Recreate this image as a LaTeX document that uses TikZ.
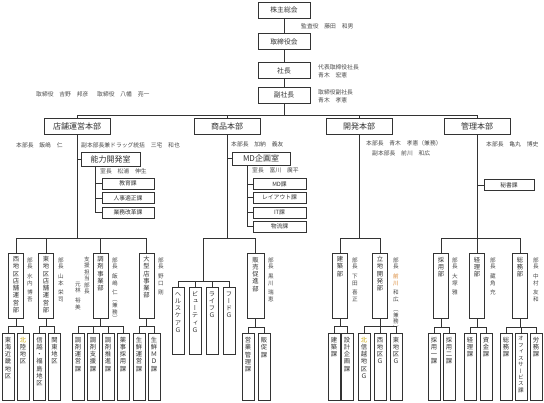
\documentclass[tikz,border=0pt]{standalone}
\usepackage{fontspec}
\setmainfont{Noto Sans CJK JP}
\newfontfamily\vfont[RawFeature=+vert]{Noto Sans CJK JP}
\usetikzlibrary{calc}
\definecolor{ln}{HTML}{333333}
\definecolor{tx}{HTML}{333333}
\definecolor{lb}{HTML}{4a4a4a}
\definecolor{hl}{HTML}{C9A400}
\definecolor{hlo}{HTML}{D9822B}
\ExplSyntaxOn
\NewDocumentCommand \VT { m }
  {
    \vbox:n
      {
        \offinterlineskip
        \tl_map_inline:nn { #1 }
          {
            \str_if_eq:nnTF { ##1 } { / }
              { \skip_vertical:n { 0.6em } }
              { \hbox_to_wd:nn { 1.1em } { \hss \tex_vrule:D height 0.92em depth 0.23em width 0pt \hbox:n { ##1 } \hss } }
          }
      }
  }
\ExplSyntaxOff
\newcommand\mkdept[4]{\node[deptbox] (#1) at (#2,#3) {};\node[vtx] (#1t) at ($(#1.north)+(0,3)$) {\VT{#4}};}
\newcommand\mksub[4]{\node[subbox] (#1) at (#2,#3) {};\node[vtx] (#1t) at ($(#1.north)+(0,3.5)$) {\VT{#4}};}
\begin{document}
\begin{tikzpicture}[x=1pt,y=-1pt,
  topbox/.style={draw=ln, line width=0.9pt, fill=white, minimum width=52pt, minimum height=16pt, inner sep=0pt, font=\fontsize{6.8}{8}\selectfont, text=tx},
  divbox/.style={topbox, minimum width=66pt, minimum height=16pt, font=\fontsize{8}{9}\selectfont},
  roombox/.style={topbox, minimum height=14pt, font=\fontsize{8}{9}\selectfont},
  secbox/.style={topbox, minimum width=52pt, minimum height=11pt, font=\fontsize{5.8}{7}\selectfont},
  deptbox/.style={draw=ln, line width=0.9pt, fill=white, minimum width=15pt, minimum height=65pt, inner sep=0pt},
  subbox/.style={deptbox, minimum width=12pt, minimum height=67pt},
  vtx/.style={inner sep=0pt, anchor=north, text=tx, font=\vfont\fontsize{6.3}{7}\selectfont},
  vlab/.style={inner sep=0pt, anchor=north, text=lb, font=\vfont\fontsize{5.6}{6}\selectfont},
  lab/.style={inner sep=0pt, anchor=west, text=lb, font=\fontsize{5.8}{8}\selectfont},
  conn/.style={draw=ln, line width=0.8pt}]
\useasboundingbox (0,0) rectangle (544,403);
\fill[white] (0,0) rectangle (544,403);
% top
\node[topbox] (kabu) at (284,10) {株主総会};
\node[topbox] (tori) at (284,41.5) {取締役会};
\node[topbox] (sha) at (284,70.5) {社長};
\node[topbox] (fuku) at (284,95) {副社長};
\node[lab] (kansa) at (301,26) {監査役　藤田　和男};
\node[lab, align=left] (shalab) at (318,71) {代表取締役社長\\青木　宏憲};
\node[lab, align=left] (fukulab) at (318,96) {取締役副社長\\青木　孝憲};
\node[lab] (yoshino) at (36,94) {取締役　吉野　邦彦};
\node[lab] (yahata) at (97,94) {取締役　八幡　亮一};
\coordinate (jtop) at (284,115);
% divisions
\node[divbox] (d1) at (77,126.5) {店舗運営本部};
\node[divbox] (d2) at (227,126.5) {商品本部};
\node[divbox] (d3) at (359,126.5) {開発本部};
\node[divbox] (d4) at (477,126.5) {管理本部};
% division 1 extras
\node[lab] (l-d1a) at (16,145) {本部長　飯嶋　仁};
\node[lab] (l-d1b) at (81,145) {副本部長兼ドラッグ統括　三宅　和也};
\node[roombox, minimum width=59pt] (nou) at (110.5,159) {能力開発室};
\node[lab] (l-nou) at (100,171) {室長　松浦　伸生};
\node[secbox] (kyo) at (128,183.5) {教育課};
\node[secbox] (jin) at (128,198) {人事適正課};
\node[secbox] (gyo) at (128,212.5) {業務改革課};
% division 2 extras
\node[lab] (l-d2) at (231,144) {本部長　加納　義友};
\node[roombox, minimum width=58pt, minimum height=13pt] (md) at (261,158.5) {MD企画室};
\node[lab] (l-md) at (252,170) {室長　富川　廣平};
\node[secbox, minimum width=53pt] (mdk) at (279.5,184) {MD課};
\node[secbox, minimum width=53pt] (lay) at (279.5,197.5) {レイアウト課};
\node[secbox, minimum width=53pt] (itk) at (279.5,212.5) {IT課};
\node[secbox, minimum width=53pt] (buts) at (279.5,226.5) {物流課};
% division 3 extras
\node[lab] (l-d3a) at (366,143) {本部長　青木　孝憲（兼務）};
\node[lab] (l-d3b) at (372,153) {副本部長　前川　和広};
% division 4 extras
\node[lab] (l-d4) at (486,144) {本部長　亀丸　博史};
\node[secbox, minimum width=50pt] (hisho) at (509,185) {秘書課};
% departments
\mkdept{nishi}{16}{285.5}{西地区店舗運営部}
\mkdept{higashi}{46}{285.5}{東地区店舗運営部}
\mkdept{chozai}{100.5}{285.5}{調剤事業部}
\mkdept{ogata}{146.5}{285.5}{大型店事業部}
\node[deptbox, minimum width=17pt] (hanbai) at (255.5,286) {};
\node[vtx] (hanbait) at ($(hanbai.north)+(0,3)$) {\VT{販売促進部}};
\mkdept{kenchiku}{340}{285.5}{建築部}
\mkdept{ricchi}{380}{285.5}{立地開発部}
\mkdept{saiyo}{441}{286}{採用部}
\mkdept{keiri}{477}{286}{経理部}
\mkdept{somu}{520}{286}{総務部}
% department labels
\node[vlab] (v1) at (30,257) {\VT{部長/水内/博吾}};
\node[vlab] (v2) at (61,257) {\VT{部長/山本/栄司}};
\node[vlab] (v3) at (87,256) {\VT{支援担当部長}};
\node[vlab] (v3b) at (78,281) {\VT{元林/裕美}};
\node[vlab] (v4) at (115,257) {\VT{部長/飯嶋/仁（兼務）}};
\node[vlab] (v5) at (161,257) {\VT{部長/野口/剛}};
\node[vlab] (v6) at (271,257) {\VT{部長/黒川/瑞恵}};
\node[vlab] (v7) at (355,257) {\VT{部長/下田/喜正}};
\node[vlab] (v8) at (396,257) {\VT{部長/{\color{hlo}前}{\color{hlo}川}/和広/（兼務）}};
\node[vlab] (v9) at (455,257) {\VT{部長/大塚/雅}};
\node[vlab] (v10) at (493,257) {\VT{部長/藏角/充}};
\node[vlab] (v11) at (536,257) {\VT{部長/中村/友和}};
% sub sections
\mksub{s11}{8}{366.5}{東海近畿地区}
\mksub{s12}{23}{366.5}{{\color{hl}北}陸地区}
\mksub{s21}{39.5}{366.5}{信越・福島地区}
\mksub{s22}{54.5}{366.5}{関東地区}
\mksub{s31}{78}{366.5}{調剤運営課}
\mksub{s32}{93}{366.5}{調剤支援課}
\mksub{s33}{108}{366.5}{調剤推進課}
\mksub{s34}{123}{366.5}{薬事採用課}
\mksub{s41}{139}{366.5}{生鮮運営課}
\mksub{s42}{154}{366.5}{生鮮ＭＤ課}
\mksub{g1}{178}{320.5}{ヘルスケアＧ}
\mksub{g2}{195}{320.5}{ビューティＧ}
\mksub{g3}{212}{320.5}{ライフＧ}
\mksub{g4}{229}{320.5}{フードＧ}
\mksub{s51}{248}{367}{営業管理課}
\mksub{s52}{264}{367}{販促課}
\mksub{s61}{334}{366.5}{建築課}
\mksub{s62}{347}{366.5}{設計企画課}
\mksub{s71}{364}{366.5}{{\color{hl}北}信越地区Ｇ}
\mksub{s72}{380}{366.5}{西地区Ｇ}
\mksub{s73}{396}{366.5}{東地区Ｇ}
\mksub{s81}{434}{366.5}{採用一課}
\mksub{s82}{449}{366.5}{採用二課}
\mksub{s91}{470}{366.5}{経理課}
\mksub{s92}{486}{366.5}{資金課}
\mksub{sa1}{506}{366.5}{総務課}
\node[subbox] (sa2) at (521,366.5) {};
\node[vtx, font=\vfont\fontsize{5.6}{6}\selectfont] (sa2t) at ($(sa2.north)+(0,3)$) {\VT{オフィスサービス課}};
\mksub{sa3}{536}{366.5}{労務課}
% connectors top
\draw[conn] (kabu) -- (tori);
\draw[conn] (tori) -- (sha);
\draw[conn] (sha) -- (fuku);
\draw[conn] (fuku.south) -- (jtop);
\foreach \d in {d1,d2,d3,d4} \draw[conn] (jtop) -| (\d.north);
% rooms
\draw[conn] (nou.west) -- (nou.west -| d1.south);
\coordinate (nv) at ($(nou.south west)+(15,0)$);
\foreach \s in {kyo,jin,gyo} \draw[conn] (nv) |- (\s.west);
\draw[conn] (md.west) -- (md.west -| d2.south);
\coordinate (mv) at ($(md.south west)+(16,0)$);
\foreach \s in {mdk,lay,itk,buts} \draw[conn] (mv) |- (\s.west);
\draw[conn] (hisho.west) -- (hisho.west -| d4.south);
% division to departments
\coordinate (j1) at (77,238);
\coordinate (j2) at (227,238);
\coordinate (j3) at (359,238);
\coordinate (j4) at (477,238);
\draw[conn] (d1.south) -- (j1);
\draw[conn] (d2.south) -- (j2);
\draw[conn] (d3.south) -- (j3);
\draw[conn] (d4.south) -- (j4);
\foreach \s in {nishi,higashi,chozai,ogata} \draw[conn] (j1) -| (\s.north);
\coordinate (gj) at (203.5,281);
\draw[conn] (j2) -| (gj);
\foreach \s in {g1,g2,g3,g4} \draw[conn] (gj) -| (\s.north);
\draw[conn] (j2) -| (hanbai.north);
\foreach \s in {kenchiku,ricchi} \draw[conn] (j3) -| (\s.north);
\foreach \s in {saiyo,keiri,somu} \draw[conn] (j4) -| (\s.north);
% departments to sections
\foreach \p/\subs in {nishi/{s11,s12}, higashi/{s21,s22}, chozai/{s31,s32,s33,s34}, ogata/{s41,s42}, hanbai/{s51,s52}, kenchiku/{s61,s62}, ricchi/{s71,s72,s73}, saiyo/{s81,s82}, keiri/{s91,s92}, somu/{sa1,sa2,sa3}} {
  \coordinate (\p b) at ($(\p.south)+(0,8)$);
  \draw[conn] (\p.south) -- (\p b);
  \foreach \s in \subs \draw[conn] (\p b) -| (\s.north);
}
\end{tikzpicture}
\end{document}
